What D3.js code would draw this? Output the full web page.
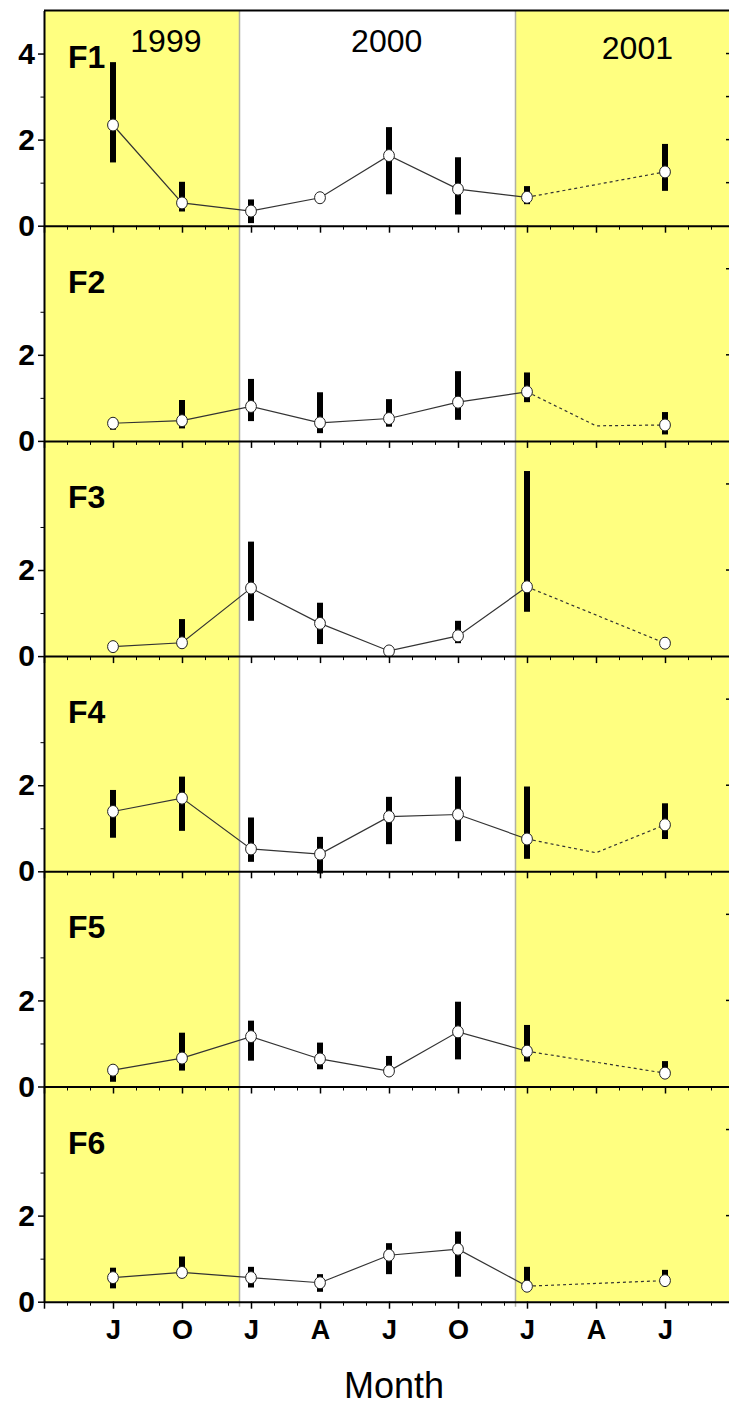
<!DOCTYPE html>
<html>
<head>
<meta charset="utf-8">
<script src="https://cdn.jsdelivr.net/npm/d3@7"></script>
<style>
  body { margin: 0; background: #fff; }
  svg { display: block; font-family: "Liberation Sans", Arial, sans-serif; }
</style>
</head>
<body>
<div id="chart"></div>
<script>
// months counted from April 1999 (0) to October 2001 (30)
const sampleMonths = [3, 6, 9, 12, 15, 18, 21, 24, 27];
const monthLabels = ['J', 'O', 'J', 'A', 'J', 'O', 'J', 'A', 'J'];
const yearLabels = ['1999', '2000', '2001'];
const yearLabelMonths = [5.3, 14.9, 25.8];
const yearBreaks = [8.5, 20.5];
const panelNames = ['F1', 'F2', 'F3', 'F4', 'F5', 'F6'];

// mean and range per sampling date (null = no sample); dashed after Jan 2001
const f1Mean = [2.34, 0.53, 0.34, 0.65, 1.63, 0.85, 0.66, null, 1.25];
const f1Lo   = [1.47, 0.33, 0.06, 0.65, 0.73, 0.26, 0.50, null, 0.81];
const f1Hi   = [3.80, 1.02, 0.61, 0.65, 2.29, 1.59, 0.92, null, 1.90];

const f2Mean = [0.41, 0.47, 0.80, 0.42, 0.52, 0.90, 1.14, 0.35, 0.37];
const f2Lo   = [0.26, 0.29, 0.46, 0.18, 0.33, 0.49, 0.90, null, 0.15];
const f2Hi   = [0.50, 0.95, 1.44, 1.13, 0.97, 1.62, 1.59, null, 0.67];

const f3Mean = [0.22, 0.31, 1.58, 0.76, 0.12, 0.47, 1.61, null, 0.30];
const f3Lo   = [0.22, 0.20, 0.82, 0.28, 0.12, 0.30, 1.03, null, 0.30];
const f3Hi   = [0.22, 0.86, 2.66, 1.24, 0.12, 0.82, 4.30, null, 0.30];

const f4Mean = [1.39, 1.70, 0.52, 0.40, 1.27, 1.32, 0.75, 0.43, 1.08];
const f4Lo   = [0.78, 0.94, 0.22, -0.05, 0.63, 0.70, 0.29, null, 0.75];
const f4Hi   = [1.89, 2.20, 1.25, 0.80, 1.73, 2.20, 1.97, null, 1.58];

const f5Mean = [0.38, 0.66, 1.16, 0.64, 0.36, 1.27, 0.82, null, 0.31];
const f5Lo   = [0.11, 0.37, 0.60, 0.40, 0.30, 0.63, 0.58, null, 0.25];
const f5Hi   = [0.45, 1.25, 1.53, 1.02, 0.71, 1.97, 1.43, null, 0.59];

const f6Mean = [0.56, 0.68, 0.56, 0.44, 1.08, 1.22, 0.36, null, 0.49];
const f6Lo   = [0.31, 0.55, 0.33, 0.23, 0.64, 0.58, 0.30, null, 0.40];
const f6Hi   = [0.79, 1.05, 0.81, 0.64, 1.36, 1.63, 0.81, null, 0.74];

const panelMeans = [f1Mean, f2Mean, f3Mean, f4Mean, f5Mean, f6Mean];
const panelLos = [f1Lo, f2Lo, f3Lo, f4Lo, f5Lo, f6Lo];
const panelHis = [f1Hi, f2Hi, f3Hi, f4Hi, f5Hi, f6Hi];

const dashFrom = 21; // Jan 2001

class StackedPanels {
    constructor(containerId) {
        this.containerId = containerId;
        this.W = 729;
        this.H = 1408;
        this.left = 44;
        this.top = 10.5;
        this.panelH = 215.2;
        this.yellow = '#ffff80';
    }

    render() {
        const svg = d3.select(`#${this.containerId}`)
            .append('svg')
            .attr('width', this.W)
            .attr('height', this.H);

        const x = d3.scaleLinear().domain([0, 30]).range([this.left, 734]);
        const bottom = this.top + this.panelH * panelNames.length;

        // shaded 1999 and 2001 seasons
        svg.append('rect')
            .attr('x', x(0)).attr('y', this.top)
            .attr('width', x(yearBreaks[0]) - x(0))
            .attr('height', bottom - this.top)
            .attr('fill', this.yellow);
        svg.append('rect')
            .attr('x', x(yearBreaks[1])).attr('y', this.top)
            .attr('width', x(30) - x(yearBreaks[1]))
            .attr('height', bottom - this.top)
            .attr('fill', this.yellow);

        svg.selectAll('.year-break')
            .data(yearBreaks)
            .enter()
            .append('line')
            .attr('x1', d => x(d)).attr('x2', d => x(d))
            .attr('y1', this.top).attr('y2', bottom + 5)
            .attr('stroke', '#b0b0a4')
            .attr('stroke-width', 1.5);

        panelNames.forEach((name, i) => this.drawPanel(svg, x, i));

        // top frame line
        svg.append('line')
            .attr('x1', this.left).attr('x2', this.W)
            .attr('y1', this.top).attr('y2', this.top)
            .attr('stroke', '#000').attr('stroke-width', 2);

        svg.selectAll('.year-label')
            .data(yearLabels)
            .enter()
            .append('text')
            .attr('x', (d, i) => x(yearLabelMonths[i]))
            .attr('y', (d, i) => i === 2 ? 59 : 51.5)
            .attr('text-anchor', 'middle')
            .style('font-size', '32px')
            .text(d => d);

        svg.append('text')
            .attr('x', 394)
            .attr('y', 1398)
            .attr('text-anchor', 'middle')
            .style('font-size', '36px')
            .text('Month');
    }

    drawPanel(svg, x, i) {
        const y0 = this.top + this.panelH * i;
        const y = d3.scaleLinear().domain([0, 5]).range([y0 + this.panelH, y0]);
        const means = panelMeans[i], los = panelLos[i], his = panelHis[i];
        const isLast = i === panelNames.length - 1;

        const pts = sampleMonths.map((m, k) => ({ m, v: means[k], lo: los[k], hi: his[k] }))
            .filter(d => d.v !== null);

        const line = d3.line().x(d => x(d.m)).y(d => y(d.v));
        svg.append('path')
            .datum(pts.filter(d => d.m <= dashFrom))
            .attr('d', line)
            .attr('fill', 'none')
            .attr('stroke', '#333')
            .attr('stroke-width', 1.2);
        svg.append('path')
            .datum(pts.filter(d => d.m >= dashFrom))
            .attr('d', line)
            .attr('fill', 'none')
            .attr('stroke', '#333')
            .attr('stroke-width', 1.2)
            .attr('stroke-dasharray', '3,3');

        const sampled = pts.filter(d => d.lo !== null);

        svg.selectAll(null)
            .data(sampled)
            .enter()
            .append('rect')
            .attr('x', d => x(d.m) - 3)
            .attr('y', d => y(d.hi))
            .attr('width', 6)
            .attr('height', d => Math.max(0, y(d.lo) - y(d.hi)))
            .attr('fill', '#000');

        svg.selectAll(null)
            .data(sampled)
            .enter()
            .append('ellipse')
            .attr('cx', d => x(d.m))
            .attr('cy', d => y(d.v))
            .attr('rx', 5.4)
            .attr('ry', 6)
            .attr('fill', '#fff')
            .attr('stroke', '#222')
            .attr('stroke-width', 1);

        // x axis: minor monthly ticks, major every 3 months
        const gx = svg.append('g').attr('transform', `translate(0,${y0 + this.panelH})`);
        gx.append('g')
            .call(d3.axisBottom(x).tickValues(d3.range(0, 31)).tickSize(4).tickSizeOuter(0).tickFormat(''))
            .call(g => g.select('.domain').attr('stroke-width', 2));
        gx.append('g')
            .call(d3.axisBottom(x).tickValues(d3.range(0, 31, 3)).tickSize(7).tickSizeOuter(0).tickPadding(11)
                .tickFormat(d => {
                    const k = sampleMonths.indexOf(d);
                    return isLast && k >= 0 ? monthLabels[k] : '';
                }))
            .call(g => g.select('.domain').remove())
            .call(g => g.selectAll('line').attr('stroke-width', 1.5))
            .call(g => g.selectAll('text')
                .style('font-size', '27px')
                .style('font-weight', '700')
                .style('font-family', '"Liberation Sans", Arial, sans-serif')
                .attr('fill', '#000'));

        // y axis
        const majors = i === 0 ? [0, 2, 4] : [0, 2];
        const minors = [1, 3];
        const gy = svg.append('g').attr('transform', `translate(${this.left},0)`);
        gy.append('g')
            .call(d3.axisLeft(y).tickValues(minors).tickSize(3.5).tickSizeOuter(0).tickFormat(''))
            .call(g => g.select('.domain').attr('stroke-width', 2));
        gy.append('g')
            .call(d3.axisLeft(y).tickValues(majors).tickSize(6).tickSizeOuter(0).tickPadding(3)
                .tickFormat(d3.format('d')))
            .call(g => g.select('.domain').remove())
            .call(g => g.selectAll('line').attr('stroke-width', 1.5))
            .call(g => g.selectAll('text')
                .style('font-size', '30px')
                .style('font-weight', '700')
                .style('font-family', '"Liberation Sans", Arial, sans-serif')
                .attr('fill', '#000'));

        // right-hand ticks at the clipped frame edge
        const rightTicks = i === 0 ? [1, 2, 3, 4] : [2, 4];
        svg.selectAll(null)
            .data(rightTicks)
            .enter()
            .append('line')
            .attr('x1', 726).attr('x2', this.W)
            .attr('y1', d => y(d)).attr('y2', d => y(d))
            .attr('stroke', '#000').attr('stroke-width', 1.5);

        svg.append('text')
            .attr('x', 68)
            .attr('y', i === 0 ? 68 : y0 + 67)
            .style('font-size', '32px')
            .style('font-weight', '700')
            .text(panelNames[i]);
    }
}

const chart = new StackedPanels('chart');
chart.render();
</script>
</body>
</html>
